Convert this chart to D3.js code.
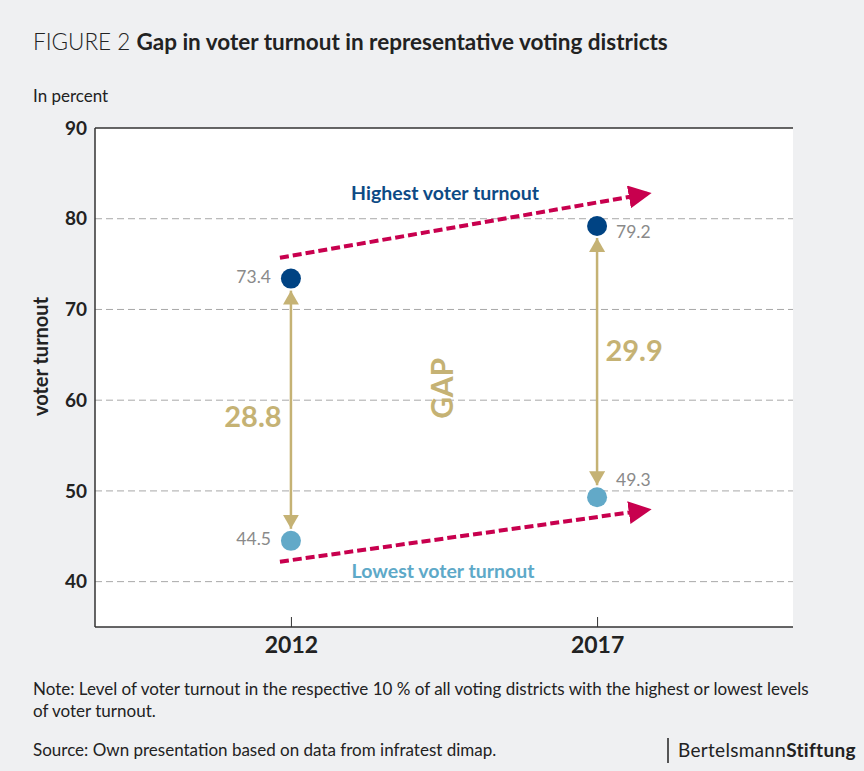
<!DOCTYPE html>
<html><head><meta charset="utf-8">
<script src="https://cdn.jsdelivr.net/npm/d3@7"></script>
<style>
html,body{margin:0;padding:0;background:#eff0f2;}
svg{display:block;font-family:Lato,"Open Sans",sans-serif;}
</style></head>
<body><div id="chart"></div>
<script>
const years = ["2012", "2017"];
const highest = [73.4, 79.2];
const lowest = [44.5, 49.3];
const gaps = [28.8, 29.9];
const yTicks = [40, 50, 60, 70, 80, 90];
const yDomain = [35, 90];
// trend arrow end values (annotation)
const highTrend = [75.7, 82.75];
const lowTrend = [42.2, 47.9];

const W = 864, H = 771;
const svg = d3.select("#chart").append("svg").attr("width", W).attr("height", H);
svg.append("rect").attr("width", W).attr("height", H).attr("fill", "#eff0f2");

const pLeft = 95, pRight = 793, pTop = 128, pBottom = 627;
const x = d3.scalePoint().domain(years).range([pLeft, pRight]).padding(0.64);
const y = d3.scaleLinear().domain(yDomain).range([pBottom, pTop]);

// title
const t = svg.append("text").attr("x", 33).attr("y", 50).attr("font-size", 22.5).attr("fill", "#222");
t.append("tspan").attr("font-weight", 300).text("FIGURE 2 ");
t.append("tspan").attr("font-weight", 700).text("Gap in voter turnout in representative voting districts");

svg.append("text").attr("x", 33).attr("y", 102).attr("font-size", 17).attr("fill", "#222").text("In percent");

// plot area
svg.append("rect").attr("x", pLeft).attr("y", pTop).attr("width", pRight - pLeft).attr("height", pBottom - pTop).attr("fill", "#fff");

// gridlines
svg.append("g").selectAll("line").data(yTicks.filter(d => d < 90)).join("line")
  .attr("x1", pLeft).attr("x2", pRight).attr("y1", d => y(d)).attr("y2", d => y(d))
  .attr("stroke", "#a8a8a8").attr("stroke-width", 1).attr("stroke-dasharray", "7,4");

// axes
const yAxis = svg.append("g").attr("transform", `translate(${pLeft},0)`)
  .call(d3.axisLeft(y).tickValues(yTicks).tickSize(0).tickPadding(8));
yAxis.select(".domain").remove();
yAxis.selectAll("text").attr("font-size", 19).attr("font-weight", 700).attr("fill", "#222").attr("font-family", "Lato");

const xAxis = svg.append("g").attr("transform", `translate(0,${pBottom})`)
  .call(d3.axisBottom(x).tickSize(-10).tickPadding(8));
xAxis.select(".domain").remove();
xAxis.selectAll("line").attr("stroke", "#333");
xAxis.selectAll("text").attr("font-size", 23).attr("font-weight", 700).attr("fill", "#222").attr("font-family", "Lato").attr("dy", "0.8em");

// frame lines
svg.append("line").attr("x1", pLeft).attr("x2", pRight).attr("y1", pTop).attr("y2", pTop).attr("stroke", "#333").attr("stroke-width", 1.5);
svg.append("line").attr("x1", pLeft).attr("x2", pRight).attr("y1", pBottom).attr("y2", pBottom).attr("stroke", "#333").attr("stroke-width", 1.5);
svg.append("line").attr("x1", pLeft).attr("x2", pLeft).attr("y1", pTop).attr("y2", pBottom).attr("stroke", "#333").attr("stroke-width", 1.5);

// y label
svg.append("text").attr("transform", `translate(48,${(pTop + pBottom) / 2 - 21}) rotate(-90)`)
  .attr("text-anchor", "middle").attr("font-size", 20).attr("font-weight", 700).attr("fill", "#222").text("voter turnout");

// defs
const defs = svg.append("defs");
defs.append("marker").attr("id", "mag").attr("viewBox", "0 0 10 10").attr("refX", 8).attr("refY", 5)
  .attr("markerWidth", 23).attr("markerHeight", 23).attr("markerUnits", "userSpaceOnUse").attr("orient", "auto")
  .append("path").attr("d", "M0,0L10,5L0,10Z").attr("fill", "#c8004e");
defs.append("marker").attr("id", "gold").attr("viewBox", "0 0 10 10").attr("refX", 10).attr("refY", 5)
  .attr("markerWidth", 14).attr("markerHeight", 16).attr("markerUnits", "userSpaceOnUse").attr("orient", "auto-start-reverse")
  .attr("preserveAspectRatio", "none")
  .append("path").attr("d", "M0,0L10,5L0,10Z").attr("fill", "#c5b274");

// trend arrows
const gold = "#c5b274";
const trendX0 = x("2012") - 11, trendX1 = x("2017") + 50;
[highTrend, lowTrend].forEach(tr => {
  svg.append("line").attr("x1", trendX0).attr("y1", y(tr[0])).attr("x2", trendX1).attr("y2", y(tr[1]))
    .attr("stroke", "#c8004e").attr("stroke-width", 4).attr("stroke-dasharray", "9,4")
    .attr("marker-end", "url(#mag)");
});

// gap arrows
years.forEach((yr, i) => {
  svg.append("line").attr("x1", x(yr)).attr("x2", x(yr))
    .attr("y1", y(highest[i]) + 12).attr("y2", y(lowest[i]) - 12)
    .attr("stroke", gold).attr("stroke-width", 2.5)
    .attr("marker-start", "url(#gold)").attr("marker-end", "url(#gold)");
});

// dots
svg.append("g").selectAll("circle").data(highest).join("circle")
  .attr("cx", (d, i) => x(years[i])).attr("cy", d => y(d)).attr("r", 10).attr("fill", "#004383");
svg.append("g").selectAll("circle").data(lowest).join("circle")
  .attr("cx", (d, i) => x(years[i])).attr("cy", d => y(d)).attr("r", 10).attr("fill", "#62a9c8");

// value labels
const lab = (tx, ty, anchor, txt) => svg.append("text").attr("x", tx).attr("y", ty).attr("text-anchor", anchor)
  .attr("font-size", 17.5).attr("fill", "#8a8a8a").attr("dominant-baseline", "middle").text(txt);
lab(x("2012") - 20, y(highest[0]), "end", highest[0].toFixed(1));
lab(x("2012") - 20, y(lowest[0]), "end", lowest[0].toFixed(1));
lab(x("2017") + 19, y(highest[1]) + 8, "start", highest[1].toFixed(1));
lab(x("2017") + 19, y(lowest[1]) - 16, "start", lowest[1].toFixed(1));

// gap values
svg.append("text").attr("x", x("2012") - 38).attr("y", y(57.9)).attr("text-anchor", "middle").attr("dominant-baseline", "middle")
  .attr("font-size", 29).attr("font-weight", 700).attr("fill", gold).text(gaps[0].toFixed(1));
svg.append("text").attr("x", x("2017") + 37).attr("y", y(65.1)).attr("text-anchor", "middle").attr("dominant-baseline", "middle")
  .attr("font-size", 29).attr("font-weight", 700).attr("fill", gold).text(gaps[1].toFixed(1));
svg.append("text").attr("transform", `translate(445,${y(61.3)}) rotate(-90)`).attr("text-anchor", "middle").attr("dominant-baseline", "middle")
  .attr("font-size", 30).attr("font-weight", 700).attr("fill", gold).text("GAP");

// series labels
svg.append("text").attr("x", 445).attr("y", y(82.6)).attr("text-anchor", "middle").attr("dominant-baseline", "middle")
  .attr("font-size", 19.5).attr("font-weight", 700).attr("fill", "#0d4a85").text("Highest voter turnout");
svg.append("text").attr("x", 443).attr("y", y(41.0)).attr("text-anchor", "middle").attr("dominant-baseline", "middle")
  .attr("font-size", 19.5).attr("font-weight", 700).attr("fill", "#5ea9c8").text("Lowest voter turnout");

// notes
const note = svg.append("text").attr("font-size", 17).attr("fill", "#222");
note.append("tspan").attr("x", 33).attr("y", 695).text("Note: Level of voter turnout in the respective 10 % of all voting districts with the highest or lowest levels");
note.append("tspan").attr("x", 33).attr("y", 717).text("of voter turnout.");
svg.append("text").attr("x", 33).attr("y", 756).attr("font-size", 17).attr("fill", "#222").text("Source: Own presentation based on data from infratest dimap.");

// logo
svg.append("line").attr("x1", 668).attr("x2", 668).attr("y1", 738).attr("y2", 763).attr("stroke", "#222").attr("stroke-width", 1.5);
const logo = svg.append("text").attr("x", 678).attr("y", 757).attr("font-size", 19).attr("fill", "#222").attr("letter-spacing", 0.3);
logo.append("tspan").attr("font-weight", 400).text("Bertelsmann");
logo.append("tspan").attr("font-weight", 700).text("Stiftung");
</script></body></html>
